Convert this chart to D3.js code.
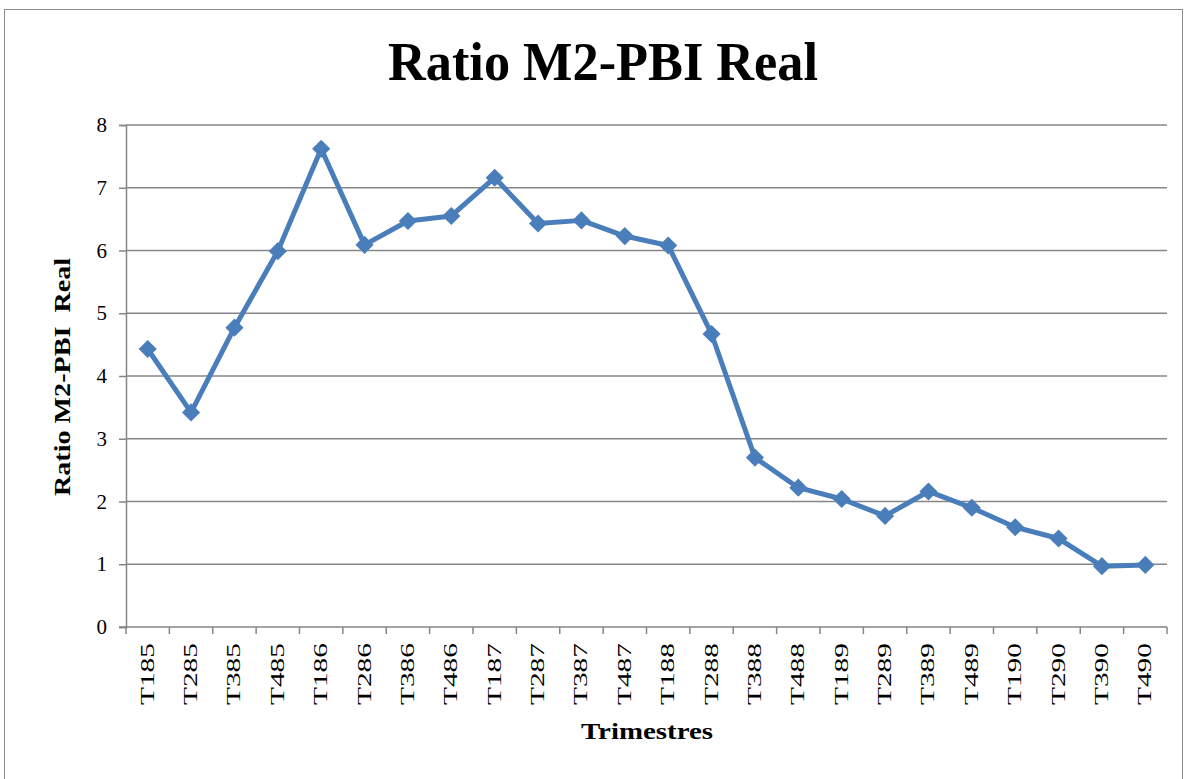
<!DOCTYPE html>
<html>
<head>
<meta charset="utf-8">
<script src="https://cdn.jsdelivr.net/npm/d3@7"></script>
<style>
    body { margin: 0; background: #fff; }
    svg text { font-family: "Liberation Serif", "Times New Roman", serif; fill: #000; }
</style>
</head>
<body>
<svg id="chart" width="1187" height="779"></svg>
<script>
// Chart data
let trimestres = ["T185", "T285", "T385", "T485", "T186", "T286", "T386", "T486",
    "T187", "T287", "T387", "T487", "T188", "T288", "T388", "T488",
    "T189", "T289", "T389", "T489", "T190", "T290", "T390", "T490"];
let ratio = [4.43, 3.42, 4.77, 5.99, 7.62, 6.09, 6.47, 6.55,
    7.16, 6.43, 6.48, 6.23, 6.08, 4.67, 2.70, 2.22,
    2.04, 1.77, 2.16, 1.90, 1.59, 1.41, 0.97, 0.99];
let yTicks = [0, 1, 2, 3, 4, 5, 6, 7, 8];

let svg = d3.select("#chart"),
    width = +svg.attr("width"),
    height = +svg.attr("height");

let margin = {top: 125, right: 20, bottom: 152, left: 126};
let plotRight = 1167;

// Outer chart border
svg.append("rect")
    .attr("x", 4.5).attr("y", 9.5)
    .attr("width", 1178).attr("height", 790)
    .attr("fill", "none")
    .attr("stroke", "#8c8c8c")
    .attr("stroke-width", 1);

let x = d3.scaleBand()
    .domain(trimestres)
    .range([margin.left, plotRight]);

let y = d3.scaleLinear()
    .domain([0, 8])
    .range([height - margin.bottom, margin.top]);

// Gridlines
svg.append("g")
    .selectAll("line")
    .data(yTicks.filter(d => d > 0))
    .enter().append("line")
    .attr("x1", margin.left).attr("x2", plotRight)
    .attr("y1", d => y(d)).attr("y2", d => y(d))
    .attr("stroke", "#868686")
    .attr("stroke-width", 1.5);

// Y axis
let yAxis = svg.append("g")
    .attr("transform", "translate(" + margin.left + ",0)")
    .call(d3.axisLeft(y).tickValues(yTicks).tickSize(7).tickPadding(12).tickFormat(d3.format("d")));
yAxis.selectAll("path, line").attr("stroke", "#868686").attr("stroke-width", 1.5);
yAxis.selectAll("text")
    .style("font-size", "21px")
    .style("font-family", "'Liberation Serif', serif");

// X axis - ticks on band boundaries
let xAxis = svg.append("g")
    .attr("transform", "translate(0," + y(0) + ")");
xAxis.append("line")
    .attr("x1", margin.left - 7).attr("x2", plotRight)
    .attr("stroke", "#868686").attr("stroke-width", 1.5);
let bounds = trimestres.map(d => x(d)).concat([plotRight]);
xAxis.selectAll(".xtick")
    .data(bounds)
    .enter().append("line")
    .attr("class", "xtick")
    .attr("x1", d => d).attr("x2", d => d)
    .attr("y1", 0).attr("y2", 7)
    .attr("stroke", "#868686").attr("stroke-width", 1.5);
xAxis.selectAll(".xlabel")
    .data(trimestres)
    .enter().append("text")
    .attr("class", "xlabel")
    .attr("transform", d => "translate(" + (x(d) + x.bandwidth() / 2 + 6) + ",16) rotate(-90)")
    .attr("text-anchor", "end")
    .attr("textLength", 62)
    .attr("lengthAdjust", "spacingAndGlyphs")
    .style("font-size", "18px")
    .text(d => d);

// Line
let line = d3.line()
    .x((d, i) => x(trimestres[i]) + x.bandwidth() / 2)
    .y(d => y(d));

svg.append("path")
    .datum(ratio)
    .attr("d", line)
    .attr("fill", "none")
    .attr("stroke", "#4a7ebb")
    .attr("stroke-width", 5)
    .attr("stroke-linejoin", "round");

// Diamond markers
svg.append("g")
    .selectAll("path")
    .data(ratio)
    .enter().append("path")
    .attr("d", d3.symbol().type(d3.symbolDiamond2).size(210))
    .attr("transform", (d, i) => "translate(" + (x(trimestres[i]) + x.bandwidth() / 2) + "," + y(d) + ")")
    .attr("fill", "#4a7ebb");

// Title
svg.append("text")
    .attr("x", 603).attr("y", 80)
    .attr("text-anchor", "middle")
    .attr("textLength", 430)
    .attr("lengthAdjust", "spacingAndGlyphs")
    .style("font-size", "54px")
    .style("font-weight", "bold")
    .text("Ratio M2-PBI Real");

// Axis titles
svg.append("text")
    .attr("transform", "translate(70,377) rotate(-90)")
    .attr("text-anchor", "middle")
    .attr("textLength", 238)
    .attr("lengthAdjust", "spacingAndGlyphs")
    .style("font-size", "23px")
    .style("font-weight", "bold")
    .style("white-space", "pre")
    .text("Ratio M2-PBI  Real");

svg.append("text")
    .attr("x", 647).attr("y", 739)
    .attr("text-anchor", "middle")
    .attr("textLength", 132)
    .attr("lengthAdjust", "spacingAndGlyphs")
    .style("font-size", "24px")
    .style("font-weight", "bold")
    .text("Trimestres");
</script>
</body>
</html>
